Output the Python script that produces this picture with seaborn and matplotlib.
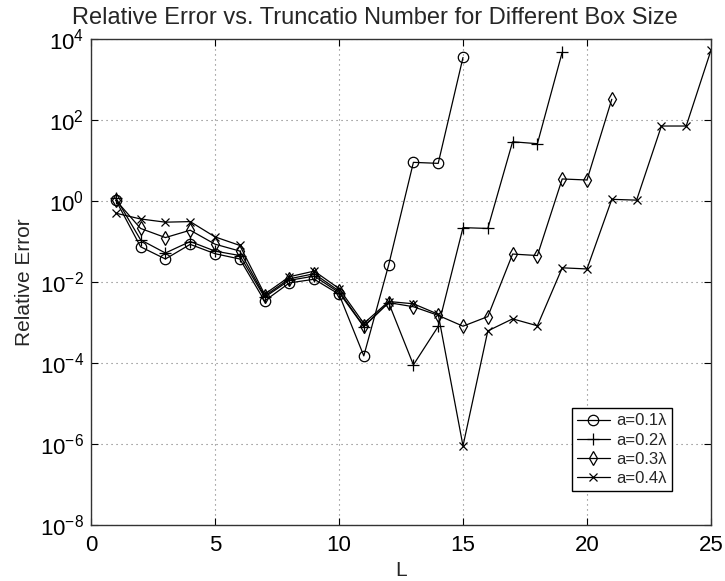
import numpy as np
import pandas as pd
import matplotlib
matplotlib.use("Agg")
import matplotlib.pyplot as plt
import seaborn as sns
from matplotlib.ticker import NullLocator, FixedLocator

# ---- data ----
L_01 = list(range(1, 16))
err_01 = [1.05, 0.074, 0.037, 0.085, 0.05, 0.037, 0.0034, 0.0095, 0.0117, 0.005,
          1.5e-4, 0.026, 9.0, 8.5, 3500]
L_02 = list(range(1, 20))
err_02 = [1.2, 0.11, 0.052, 0.10, 0.058, 0.045, 0.0042, 0.011, 0.014, 0.0055,
          7.9e-4, 3.1e-3, 9e-5, 8e-4, 0.22, 0.21, 29, 26, 4700]
L_03 = list(range(1, 22))
err_03 = [1.05, 0.21, 0.125, 0.19, 0.086, 0.058, 0.0045, 0.012, 0.016, 0.006,
          8e-4, 3.1e-3, 2.45e-3, 1.5e-3, 8.1e-4, 1.4e-3, 0.049, 0.045, 3.5, 3.3, 325]
L_04 = list(range(1, 26))
err_04 = [0.5, 0.36, 0.30, 0.31, 0.13, 0.08, 0.005, 0.0135, 0.0186, 0.0069,
          9.5e-4, 3.3e-3, 2.9e-3, 1.6e-3, 9e-7, 6.2e-4, 1.23e-3, 8.3e-4, 0.0224, 0.021,
          1.1, 1.05, 71, 71, 5300]
labels = ["a=0.1λ", "a=0.2λ", "a=0.3λ", "a=0.4λ"]
x_ticks = [0, 5, 10, 15, 20, 25]
y_ticks = [1e-8, 1e-6, 1e-4, 1e-2, 1e0, 1e2, 1e4]

series = [(L_01, err_01), (L_02, err_02), (L_03, err_03), (L_04, err_04)]
markers = ["o", "+", "d", "x"]
msizes = [7.5, 8.5, 7, 6]

sns.set_style("ticks")
plt.rcParams["font.family"] = ["Liberation Sans", "DejaVu Sans"]
plt.rcParams["mathtext.fontset"] = "custom"
plt.rcParams["mathtext.rm"] = "Liberation Sans"
plt.rcParams["mathtext.it"] = "Liberation Sans:italic"

fig = plt.figure(figsize=(7.25, 5.81), dpi=100)
ax = fig.add_axes([91/725, 1 - 525/581, 620/725, 486/581])

for (Ls, errs), lab, mk, ms in zip(series, labels, markers, msizes):
    df = pd.DataFrame({"L": Ls, "err": errs})
    sns.lineplot(data=df, x="L", y="err", ax=ax, color="black", linewidth=0.9,
                 marker=mk, markersize=ms, markerfacecolor="none",
                 markeredgecolor="black", markeredgewidth=0.9, label=lab,
                 legend=False)

ax.set_yscale("log")
ax.set_xlim(0, 25)
ax.set_ylim(1e-8, 1e4)
ax.xaxis.set_major_locator(FixedLocator(x_ticks))
ax.yaxis.set_major_locator(FixedLocator(y_ticks))
ax.yaxis.set_minor_locator(NullLocator())
ax.xaxis.set_minor_locator(NullLocator())
ax.grid(True, which="major", linestyle=(0, (1, 3.5)), color="#777777", linewidth=0.8)

ax.tick_params(direction="in", top=True, right=True, length=5, width=0.8,
               labelsize=16, colors="black")
ax.tick_params(axis="x", pad=7)
ax.tick_params(axis="y", pad=5)
for sp in ax.spines.values():
    sp.set_color("#333333")
    sp.set_linewidth(1.0)

ax.set_xlabel("L", fontsize=15, labelpad=4)
ax.set_ylabel("Relative Error", fontsize=15, labelpad=4)
ax.set_title("Relative Error vs. Truncatio Number for Different Box Size",
             fontsize=17, pad=11, x=0.458)

leg = ax.legend(loc="lower left", bbox_to_anchor=(0.775, 0.07), fontsize=12,
                frameon=True, fancybox=False, edgecolor="black", framealpha=1,
                handlelength=2.0, handletextpad=0.4, labelspacing=0.25,
                borderpad=0.3, borderaxespad=0)
leg.get_frame().set_linewidth(1.0)

fig.savefig("out.png", dpi=100)
